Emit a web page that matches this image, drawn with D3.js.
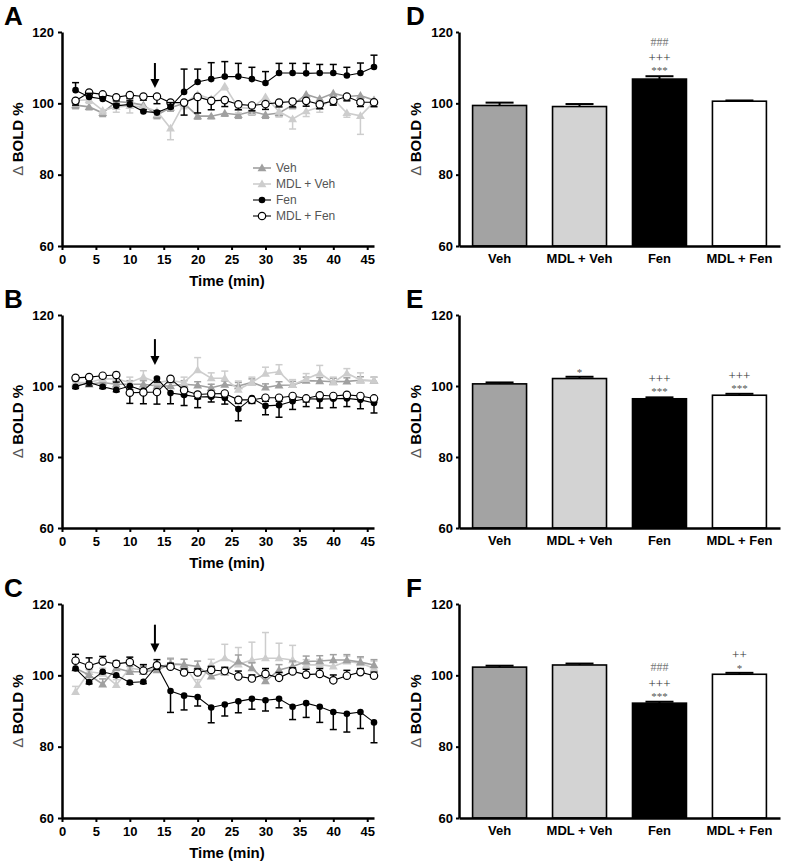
<!DOCTYPE html>
<html>
<head>
<meta charset="utf-8">
<script src="https://cdn.jsdelivr.net/npm/d3@7"></script>
<style>
  html, body { margin: 0; padding: 0; background: #fff; }
  svg { display: block; font-family: "Liberation Sans", Arial, sans-serif; }
</style>
</head>
<body>
<svg id="chart" width="788" height="863"></svg>
<script>
// ---------------- DATA ----------------
const times = [2,4,6,8,10,12,14,16,18,20,22,24,26,28,30,32,34,36,38,40,42,44,46];
const groups = ["Veh", "MDL + Veh", "Fen", "MDL + Fen"];
const yTicks = [60, 80, 100, 120];
const xTicks = [0, 5, 10, 15, 20, 25, 30, 35, 40, 45];

// Panel A
const aVeh       = [99.5,99.0,97.3,100.5,100.2,99.5,96.7,98.8,100.0,96.4,96.4,97.2,96.8,97.7,96.8,97.3,99.5,102.5,101.3,102.8,101.9,102.2,100.9];
const aVehErr    = [1,0.8,1,1,1,1,1,1,1,0.8,0.7,0.8,1,1,1,1,1,1,1,0.8,1,1,1];
const aMdlVeh    = [100.8,101.0,98.0,99.0,99.3,99.0,97.8,93.0,100.0,102.5,101.2,104.8,98.8,98.6,101.8,97.7,95.6,97.8,99.0,101.2,97.3,96.5,100.4];
const aMdlVehErr = [1.5,1,1,1.5,2,1.5,1.5,3.2,1.5,1.5,1,1,1.5,1.8,1.5,1.5,2.8,1.5,1.5,1.5,1.2,5.2,1.5];
const aFen       = [103.7,101.8,101.2,99.3,99.7,97.7,97.4,99.0,103.2,106.0,106.8,107.5,107.5,106.8,105.7,108.5,108.5,108.4,108.5,108.5,107.8,108.5,110.2];
const aFenErr    = [2.1,1.0,0.6,0.5,1.0,0.5,0.5,1.2,6.4,3.6,4.6,4.2,3.7,3.3,3.2,2.7,2.7,2.8,2.4,2.4,2.3,2.8,3.3];
const aMdlFen    = [100.7,103.0,102.5,101.7,102.3,101.9,101.9,100.2,100.2,101.8,100.7,100.9,99.7,99.4,99.8,100.2,100.5,100.7,99.7,100.7,101.9,100.3,100.3];
const aMdlFenErr = [1.2,1,1,1,1,1,2.0,1.5,3.5,4.5,2.5,1.8,1.5,1.5,1.5,1.2,1.5,1.5,1.2,1.2,1.2,1.2,1.2];

// Panel B
const bVeh       = [100.5,100.5,101.0,100.5,100.5,100.5,100.0,100.0,100.5,100.2,99.5,100.4,100.0,101.0,99.6,100.2,100.3,101.5,101.4,101.2,101.3,101.6,101.5];
const bVehErr    = [0.8,0.8,1,1,1,1,1,1,1,1,1,1,1,1,1,1,1,1,1,1,1,1,1];
const bMdlVeh    = [101.0,101.0,102.0,102.0,101.0,102.5,101.0,101.5,101.0,104.5,102.2,102.2,99.0,101.0,103.5,104.0,100.3,102.0,103.6,101.0,103.6,101.7,101.5];
const bMdlVehErr = [1,1,1,2,1.5,1.8,1.5,1.2,1.5,3.5,1.5,2,2.4,1.5,1.8,2,1.5,1.5,2.2,1.5,1.3,2,1];
const bFen       = [99.8,101.0,99.8,98.9,100.0,98.7,102.1,98.0,97.5,96.9,97.0,96.6,93.5,96.6,94.4,94.6,95.7,96.4,96.3,96.4,96.5,96.1,95.2];
const bFenErr    = [0.5,1,0.5,0.5,1,1,1,3,3,3,1.5,1.7,3.3,1.2,2.5,3.4,2.3,2.2,2.5,2.5,2.3,2.5,2.8];
const bMdlFen    = [102.3,102.5,102.9,103.1,98.1,98.2,98.3,102.0,98.8,97.6,97.8,97.9,96.1,96.1,96.7,96.7,97.2,96.5,97.4,97.2,97.5,97.2,96.5];
const bMdlFenErr = [0.5,0.5,0.5,2.0,3.0,3.2,3.4,0.8,1.5,1.2,1,1,1,1,1,1,1,1,1,1,1,1,1];

// Panel C
const cVeh       = [102.0,100.1,97.5,102.0,101.0,101.0,101.5,103.1,103.0,102.5,99.7,100.8,103.9,102.0,98.4,101.5,102.5,103.9,104.0,104.3,104.3,103.7,102.9];
const cVehErr    = [1.5,1.5,1.5,1.5,1.5,1.5,1.5,1.5,1.5,1.5,1.2,1.5,1.8,1.5,1.5,1.5,1.5,1.5,1.5,1.5,1.5,1.5,1.5];
const cMdlVeh    = [95.4,101.0,100.5,97.3,102.0,101.5,102.0,103.4,103.0,97.3,103.0,104.8,103.1,104.3,104.8,104.8,104.3,102.9,103.0,102.5,103.9,103.4,102.0];
const cMdlVehErr = [1.5,1.5,1.5,1.5,1.5,1.5,1.5,1.5,1.5,1.5,1.5,3.9,4.7,5.0,7.2,4.2,4.1,1.5,1.5,1.5,1.5,1.5,2.0];
const cFen       = [101.9,98.1,101.0,100.0,98.0,98.2,102.7,95.6,94.3,93.9,91.0,91.8,92.7,93.4,93.0,93.4,91.2,92.2,91.2,89.7,89.2,89.7,86.8];
const cFenErr    = [0.5,0.5,0.5,0.5,0.5,0.5,1,6,4,2.5,4.3,3.2,3.2,2.9,3,2.5,3.6,4,4.4,4.9,5.1,4.6,5.7];
const cMdlFen    = [104.1,102.7,103.9,103.2,103.7,101.3,102.8,102.4,100.8,100.8,101.5,101.2,99.7,99.1,100.4,99.3,101.1,100.2,100.4,98.6,99.9,100.9,99.9];
const cMdlFenErr = [1.8,2.2,1.4,0.8,1.4,1.7,1.6,1,1,1,1,1,1.5,1,1.5,1.5,1,1.5,1.5,1.5,1.5,1,1];

// Injection arrow (time, top value, tip value)
const arrowTime = 13.7;
const arrowA = [111.3, 104.3];
const arrowB = [113.2, 105.9];
const arrowC = [114.2, 106.4];

// Bar panels (mean, SEM)
const barD    = [99.4, 99.1, 106.8, 100.6];
const barDErr = [0.8, 0.7, 0.8, 0.2];
const barE    = [100.6, 102.1, 96.4, 97.4];
const barEErr = [0.4, 0.5, 0.4, 0.4];
const barF    = [102.3, 102.9, 92.2, 100.3];
const barFErr = [0.4, 0.4, 0.4, 0.4];
const annotD = [[], [], ["***", "+++", "###"], []];
const annotE = [[], ["*"], ["***", "+++"], ["***", "+++"]];
const annotF = [[], [], ["***", "+++", "###"], ["*", "++"]];

// ---------------- STYLE ----------------
const seriesStyle = {
  "Veh":       { color: "#a0a0a0", marker: "tri",    lw: 1.6 },
  "MDL + Veh": { color: "#cdcdcd", marker: "tri",    lw: 1.6 },
  "Fen":       { color: "#000000", marker: "filled", lw: 1.1 },
  "MDL + Fen": { color: "#000000", marker: "open",   lw: 1.1 }
};
const barFill = ["#a3a3a3", "#d3d3d3", "#000000", "#ffffff"];

const svg = d3.select("#chart");

function styleAxis(g, width) {
  g.select(".domain").attr("stroke", "#000").attr("stroke-width", width);
  g.selectAll(".tick line").attr("stroke", "#000").attr("stroke-width", 2);
  g.selectAll(".tick text").attr("fill", "#000").style("font-size", "13px").style("font-weight", "bold")
    .style("font-family", "'Liberation Sans', Arial, sans-serif");
}

function yLabel(x, yMid) {
  const t = svg.append("text")
    .attr("transform", `translate(${x},${yMid}) rotate(-90)`)
    .attr("text-anchor", "middle")
    .attr("dominant-baseline", "central")
    .style("font-size", "15px");
  t.append("tspan").attr("fill", "#555").style("font-weight", "normal").text("\u0394 ");
  t.append("tspan").attr("fill", "#000").style("font-weight", "bold").text("BOLD %");
}

function panelLetter(letter, x, y) {
  svg.append("text").attr("x", x).attr("y", y).text(letter)
    .style("font-size", "26px").style("font-weight", "bold").attr("fill", "#000");
}

function drawMarker(g, kind, color, cx, cy) {
  if (kind === "filled") {
    g.append("circle").attr("cx", cx).attr("cy", cy).attr("r", 3.3).attr("fill", "#000");
  } else if (kind === "open") {
    g.append("circle").attr("cx", cx).attr("cy", cy).attr("r", 3.7)
      .attr("fill", "#fff").attr("stroke", "#000").attr("stroke-width", 1.2);
  } else {
    g.append("path").attr("d", d3.symbol(d3.symbolTriangle, 34)())
      .attr("transform", `translate(${cx},${cy + 0.6})`).attr("fill", color);
  }
}

function drawLinePanel(opt) {
  const x = d3.scaleLinear().domain([0, 46]).range([62, 374]);
  const y = d3.scaleLinear().domain([60, 120]).range([opt.bottom, opt.top]);
  const g = svg.append("g");

  // series
  opt.series.forEach(s => {
    const st = seriesStyle[s.name];
    const sg = g.append("g");
    // error bars
    s.values.forEach((v, i) => {
      const e = s.err[i];
      const xx = x(times[i]);
      const ends = s.dir === 0 ? [v - e, v + e] : [v, v + s.dir * e];
      sg.append("line").attr("x1", xx).attr("x2", xx)
        .attr("y1", y(ends[0])).attr("y2", y(ends[1]))
        .attr("stroke", st.color).attr("stroke-width", 1.5);
      const capVals = s.dir === 0 ? ends : [ends[1]];
      capVals.forEach(cv => {
        sg.append("line").attr("x1", xx - 3.5).attr("x2", xx + 3.5)
          .attr("y1", y(cv)).attr("y2", y(cv))
          .attr("stroke", st.color).attr("stroke-width", 1.5);
      });
    });
    s._g = sg;
  });
  opt.series.forEach(s => {
    const st = seriesStyle[s.name];
    const line = d3.line().x((d, i) => x(times[i])).y(d => y(d));
    s._g.append("path").datum(s.values).attr("d", line)
      .attr("fill", "none").attr("stroke", st.color).attr("stroke-width", st.lw);
  });
  opt.series.forEach(s => {
    const st = seriesStyle[s.name];
    s.values.forEach((v, i) => drawMarker(s._g, st.marker, st.color, x(times[i]), y(v)));
  });

  // arrow
  const ax = x(arrowTime);
  const yTop = y(opt.arrow[0]), yTip = y(opt.arrow[1]);
  g.append("line").attr("x1", ax).attr("x2", ax).attr("y1", yTop).attr("y2", yTip - 6)
    .attr("stroke", "#000").attr("stroke-width", 2);
  g.append("path").attr("d", `M${ax - 4.5},${yTip - 9} L${ax + 4.5},${yTip - 9} L${ax},${yTip} Z`)
    .attr("fill", "#000");

  // axes
  const gy = svg.append("g").attr("transform", "translate(62,0)")
    .call(d3.axisLeft(y).tickValues(yTicks).tickSize(4).tickSizeOuter(0).tickPadding(4).tickFormat(d3.format("d")));
  styleAxis(gy, 2.5);
  const gx = svg.append("g").attr("transform", `translate(0,${opt.bottom})`)
    .call(d3.axisBottom(x).tickValues(xTicks).tickSize(4).tickSizeOuter(0).tickPadding(5).tickFormat(d3.format("d")));
  styleAxis(gx, 2.5);

  svg.append("text").attr("x", 227).attr("y", opt.bottom + 40).attr("text-anchor", "middle")
    .style("font-size", "15px").style("font-weight", "bold").text("Time (min)");
  yLabel(17, (opt.top + opt.bottom) / 2);
  panelLetter(opt.letter, 4, opt.top - 7);

  if (opt.legend) {
    const items = ["Veh", "MDL + Veh", "Fen", "MDL + Fen"];
    items.forEach((name, i) => {
      const st = seriesStyle[name];
      const ly = 168 + i * 16;
      const lg = svg.append("g");
      lg.append("line").attr("x1", 253).attr("x2", 271).attr("y1", ly).attr("y2", ly)
        .attr("stroke", st.color).attr("stroke-width", st.lw);
      drawMarker(lg, st.marker, st.color, 262, ly);
      lg.append("text").attr("x", 276).attr("y", ly).attr("dominant-baseline", "central")
        .style("font-size", "12px").attr("fill", "#555").text(name);
    });
  }
}

function drawBarPanel(opt) {
  const x = d3.scaleBand().domain(groups).range([459, 780]).paddingInner(0.325).paddingOuter(0.17);
  const y = d3.scaleLinear().domain([60, 120]).range([opt.bottom, opt.top]);
  const g = svg.append("g");
  opt.values.forEach((v, i) => {
    const x0 = x(groups[i]), w = x.bandwidth();
    g.append("rect").attr("x", x0).attr("y", y(v)).attr("width", w).attr("height", y(60) - y(v))
      .attr("fill", barFill[i]).attr("stroke", "#000").attr("stroke-width", 1.6);
    const cx = x0 + w / 2;
    const et = y(v + opt.err[i]);
    g.append("line").attr("x1", cx).attr("x2", cx).attr("y1", y(v)).attr("y2", et)
      .attr("stroke", "#000").attr("stroke-width", 2);
    g.append("line").attr("x1", cx - 14).attr("x2", cx + 14).attr("y1", et).attr("y2", et)
      .attr("stroke", "#000").attr("stroke-width", 2);
    opt.annot[i].forEach(a => {
      let off, fs, col;
      if (a[0] === "*") { off = a.length === 1 ? -0.5 : -2.2; fs = 11; col = "#555"; }
      else if (a[0] === "+") { off = -14; fs = 13; col = "#333"; }
      else { off = -30.5; fs = 12; col = "#777"; }
      g.append("text").attr("x", cx).attr("y", et + off).attr("text-anchor", "middle")
        .style("font-family", "'Liberation Serif', 'Times New Roman', serif")
        .style("font-size", fs + "px").attr("fill", col).text(a);
    });
  });
  const gy = svg.append("g").attr("transform", "translate(459,0)")
    .call(d3.axisLeft(y).tickValues(yTicks).tickSize(3).tickSizeOuter(0).tickPadding(3).tickFormat(d3.format("d")));
  styleAxis(gy, 2.5);
  const gx = svg.append("g").attr("transform", `translate(0,${opt.bottom})`)
    .call(d3.axisBottom(x).tickSize(0).tickSizeOuter(0).tickPadding(8));
  styleAxis(gx, 2.5);
  yLabel(415, (opt.top + opt.bottom) / 2);
  panelLetter(opt.letter, 406, opt.top - 7);
}

drawLinePanel({
  letter: "A", top: 32, bottom: 246, arrow: arrowA, legend: true,
  series: [
    { name: "Veh",       values: aVeh,    err: aVehErr,    dir: -1 },
    { name: "MDL + Veh", values: aMdlVeh, err: aMdlVehErr, dir: -1 },
    { name: "MDL + Fen", values: aMdlFen, err: aMdlFenErr, dir: -1 },
    { name: "Fen",       values: aFen,    err: aFenErr,    dir: 1 }
  ]
});
drawLinePanel({
  letter: "B", top: 315, bottom: 528, arrow: arrowB,
  series: [
    { name: "Veh",       values: bVeh,    err: bVehErr,    dir: 1 },
    { name: "MDL + Veh", values: bMdlVeh, err: bMdlVehErr, dir: 1 },
    { name: "Fen",       values: bFen,    err: bFenErr,    dir: -1 },
    { name: "MDL + Fen", values: bMdlFen, err: bMdlFenErr, dir: -1 }
  ]
});
drawLinePanel({
  letter: "C", top: 604, bottom: 818, arrow: arrowC,
  series: [
    { name: "MDL + Veh", values: cMdlVeh, err: cMdlVehErr, dir: 1 },
    { name: "Veh",       values: cVeh,    err: cVehErr,    dir: 1 },
    { name: "Fen",       values: cFen,    err: cFenErr,    dir: -1 },
    { name: "MDL + Fen", values: cMdlFen, err: cMdlFenErr, dir: 1 }
  ]
});

drawBarPanel({ letter: "D", top: 32, bottom: 246, values: barD, err: barDErr, annot: annotD });
drawBarPanel({ letter: "E", top: 315, bottom: 528, values: barE, err: barEErr, annot: annotE });
drawBarPanel({ letter: "F", top: 604, bottom: 818, values: barF, err: barFErr, annot: annotF });
</script>
</body>
</html>
